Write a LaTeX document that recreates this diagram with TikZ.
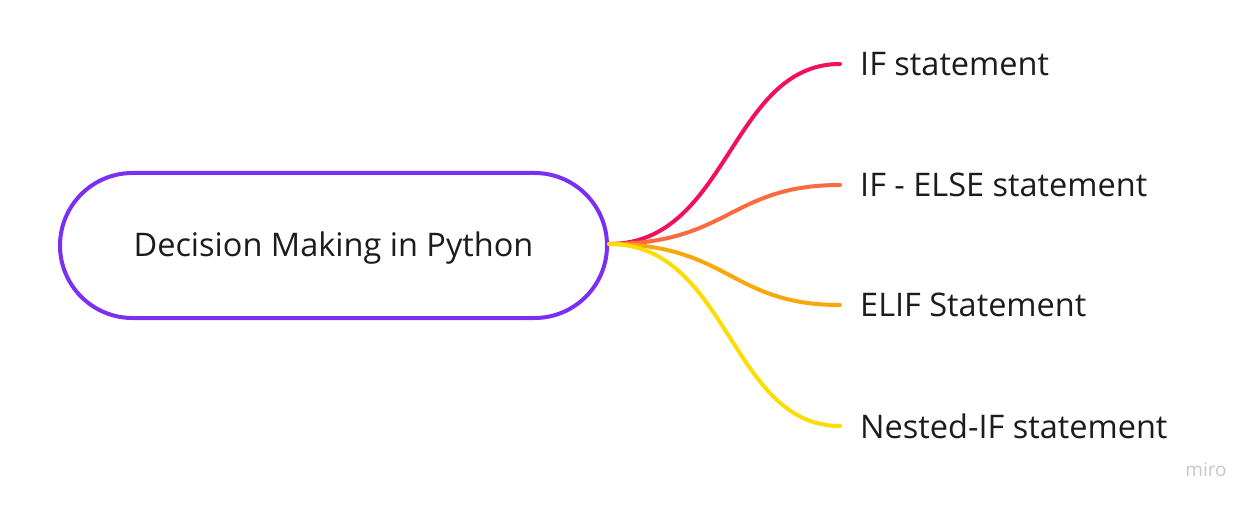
\documentclass[tikz,border=0pt]{standalone}
\usepackage{fontspec}
\setmainfont{Open Sans}
\definecolor{hubpurple}{HTML}{7B2FF2}
\definecolor{txt}{HTML}{1C1C1E}
\definecolor{cA}{HTML}{F0105E}
\definecolor{cB}{HTML}{FB6B3F}
\definecolor{cC}{HTML}{FAA70A}
\definecolor{cD}{HTML}{FBDD05}
\definecolor{wm}{HTML}{C6C6CF}
\begin{document}
\begin{tikzpicture}[x=1pt,y=-1pt,
  hub/.style={draw=hubpurple,line width=4pt,rounded corners=72.5pt,minimum width=547pt,minimum height=145pt,inner sep=0pt,font=\fontsize{32.5}{38}\selectfont,text=txt},
  leaf/.style={anchor=west,inner sep=0pt,font=\fontsize{32.5}{38}\selectfont,text=txt},
  branch/.style={line width=4pt,line cap=round}]
\useasboundingbox (0,0) rectangle (1255,505);
\node[hub] (hub) at (333.5,245.5) {};
\node[font=\fontsize{32.5}{38}\selectfont,text=txt,inner sep=0pt,anchor=base] (hubtxt) at (333.5,256.5) {Decision Making in Python};
\node[leaf] (a) at (860,64) {IF statement};
\node[leaf] (b) at (860,185) {IF - ELSE statement};
\node[leaf] (c) at (860,305) {ELIF Statement};
\node[leaf] (d) at (860,426) {Nested-IF statement};
\coordinate (s) at (609,244);
\foreach \n/\col in {a/cA,b/cB,c/cC,d/cD}{
  \draw[branch,draw=\col] (s) .. controls ([xshift=120pt]s) and ([xshift=-130pt]\n.west) .. ([xshift=-20pt]\n.west);
}
\node[text=wm,font=\fontsize{19}{22}\selectfont,inner sep=0pt] (wmk) at (1206,470) {miro};
\end{tikzpicture}
\end{document}
